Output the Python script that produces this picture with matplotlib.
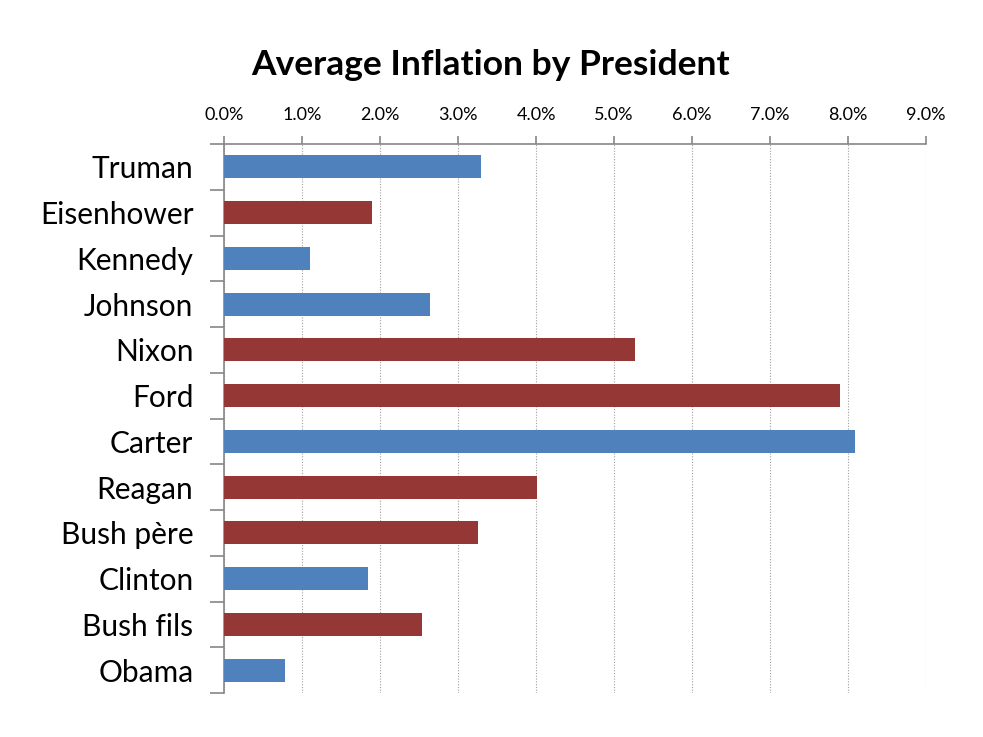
import matplotlib
matplotlib.use("Agg")
from matplotlib import pyplot as plt
from matplotlib.ticker import FuncFormatter

presidents = ["Truman", "Eisenhower", "Kennedy", "Johnson", "Nixon", "Ford",
              "Carter", "Reagan", "Bush père", "Clinton", "Bush fils", "Obama"]
inflation = [3.29, 1.90, 1.10, 2.64, 5.27, 7.90, 8.09, 4.01, 3.26, 1.85, 2.54, 0.78]
party = ["D", "R", "D", "D", "R", "R", "D", "R", "R", "D", "R", "D"]

BLUE = "#4F81BD"
RED = "#953735"
colors = [BLUE if p == "D" else RED for p in party]

plt.rcParams['font.family'] = ['Lato', 'DejaVu Sans']

fig = plt.figure(figsize=(9.83, 7.37), dpi=100)
ax = fig.add_axes([0.2279, 0.0597, 0.7142, 0.7449])

ypos = list(range(len(presidents)))
ax.barh(ypos, inflation, height=0.5, color=colors, zorder=3)
ax.set_ylim(len(presidents) - 0.5, -0.5)
ax.set_xlim(0, 9)
ax.set_xticks(range(10))
ax.xaxis.set_major_formatter(FuncFormatter(lambda v, _: f"{v:.1f}%"))
ax.xaxis.tick_top()
ax.set_yticks([y - 0.5 for y in ypos] + [len(presidents) - 0.5])
ax.set_yticklabels([])
ax.set_yticks(ypos, minor=True)
ax.set_yticklabels(presidents, minor=True, fontsize=21.5)
ax.tick_params(axis='y', which='minor', length=0, pad=22)
ax.tick_params(axis='y', which='major', length=10, color='#868686', width=1.2)
ax.tick_params(axis='x', length=6, color='#868686', width=1.2, labelsize=13, pad=9)

ax.grid(axis='x', color='#a0a0a0', linestyle=(0, (1, 1.5)), linewidth=0.8, zorder=0)
for s in ['right', 'bottom']:
    ax.spines[s].set_visible(False)
for s in ['top', 'left']:
    ax.spines[s].set_color('#868686')
    ax.spines[s].set_linewidth(1.2)

fig.text(0.4995, 0.912, "Average Inflation by President", ha='center', va='center',
         fontsize=25.5, fontweight='bold')

fig.savefig("out.png", dpi=100)
